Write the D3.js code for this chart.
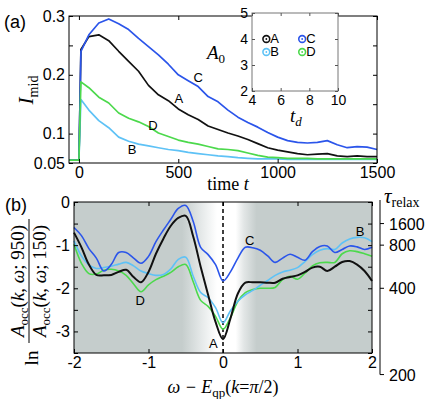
<!DOCTYPE html>
<html>
<head>
<meta charset="utf-8">
<script src="https://cdn.jsdelivr.net/npm/d3@7"></script>
<style>
  html, body { margin: 0; padding: 0; background: #fff; }
  svg text { font-family: "Liberation Sans", Arial, Helvetica, sans-serif; fill: #000; }
  .math, svg text.math { font-family: "Liberation Serif", "Times New Roman", serif; }
  .frame { fill: none; stroke: #000; stroke-width: 1; }
  .inset-frame { fill: #fff; stroke: #777; stroke-width: 1; }
</style>
</head>
<body>
<svg id="chart" width="436" height="399"></svg>
<script>
// ---- panel (a): I_mid vs time ----
const timeT = [-50, 0, 10, 50, 100, 150, 200, 250, 300, 350, 400, 450, 500, 550, 600, 650, 700,
    750, 800, 850, 900, 950, 1000, 1050, 1100, 1150, 1200, 1250, 1300, 1350, 1400, 1450, 1500];
const imidA = [.055, .055, .243, .265, .268, .258, .240, .223, .206, .182, .166, .156, .142, .132, .124, .113, .107,
    .101, .096, .090, .083, .076, .072, .069, .066, .064, .065, .066, .062, .061, .062, .061, .061];
const imidB = [.055, .055, .158, .140, .122, .110, .094, .087, .082, .079, .076, .073, .071, .068, .066, .064, .062,
    .061, .059, .058, .057, .057, .057, .056, .056, .056, .056, .056, .056, .056, .056, .056, .056];
const imidC = [.055, .055, .240, .268, .288, .295, .287, .277, .262, .248, .234, .218, .200, .190, .180, .163, .154,
    .140, .128, .119, .111, .102, .094, .088, .085, .084, .085, .088, .081, .076, .078, .077, .073];
const imidD = [.055, .055, .188, .178, .162, .152, .135, .126, .120, .112, .101, .095, .089, .085, .082, .078, .074,
    .073, .071, .067, .063, .060, .059, .058, .058, .058, .057, .057, .057, .057, .057, .057, .057];
const timeTicks = [0, 500, 1000, 1500];
const imidTicks = [0.05, 0.1, 0.15, 0.2, 0.25, 0.3];
const imidLabels = ["0.05", "0.1", "", "0.2", "", "0.3"];

// inset: A0 vs t_d
const insetNames = ["A", "B", "C", "D"];
const insetTd = [5, 5, 7.5, 7.5];
const insetA0 = [4, 3.5, 4, 3.5];
const insetXTicks = [4, 6, 8, 10];
const insetYTicks = [2, 3, 4, 5];

// ---- panel (b): ln ratio vs omega ----
const omega = [-2.0, -1.9, -1.8, -1.7, -1.6, -1.5, -1.4, -1.3, -1.2, -1.1, -1.0, -0.9, -0.8, -0.7, -0.6, -0.5, -0.4,
    -0.3, -0.2, -0.1, 0.0, 0.1, 0.2, 0.3, 0.4, 0.5, 0.6, 0.7, 0.8, 0.9, 1.0, 1.1, 1.2, 1.3, 1.4, 1.5, 1.6, 1.7, 1.8, 1.9, 2.0];
const lnA = [-0.71, -1.05, -1.45, -1.69, -1.70, -1.69, -1.62, -1.57, -1.74, -1.86, -1.62, -1.20, -0.85, -0.55, -0.37, -0.32, -0.80,
    -1.50, -2.15, -2.78, -3.18, -2.70, -2.12, -1.87, -1.86, -1.86, -1.87, -1.87, -1.78, -1.74, -1.70, -1.62, -1.52, -1.50, -1.60, -1.50, -1.39, -1.37, -1.45, -1.60, -1.83];
const lnB = [-0.90, -1.25, -1.46, -1.54, -1.52, -1.49, -1.44, -1.40, -1.48, -1.60, -1.66, -1.70, -1.68, -1.55, -1.33, -1.28, -1.72,
    -2.10, -2.22, -2.45, -2.80, -2.52, -2.30, -2.15, -2.05, -1.93, -1.82, -1.70, -1.62, -1.58, -1.52, -1.38, -1.22, -1.12, -1.08, -1.10, -0.95, -0.86, -0.82, -0.83, -0.92];
const lnC = [-0.59, -0.78, -1.08, -1.30, -1.60, -1.45, -1.17, -1.17, -1.30, -1.42, -1.26, -0.92, -0.65, -0.40, -0.15, -0.08, -0.45,
    -1.05, -1.22, -1.45, -1.83, -1.62, -1.30, -1.05, -1.06, -1.12, -1.25, -1.40, -1.30, -1.21, -1.28, -1.35, -1.15, -1.03, -1.02, -1.17, -1.10, -1.02, -1.04, -1.10, -1.05];
const lnD = [-0.98, -1.42, -1.66, -1.67, -1.58, -1.56, -1.60, -1.70, -1.90, -2.08, -1.92, -1.80, -1.72, -1.63, -1.50, -1.45, -1.85,
    -2.28, -2.42, -2.65, -2.95, -2.68, -2.30, -2.10, -2.03, -2.00, -2.00, -1.98, -1.80, -1.72, -1.79, -1.65, -1.48, -1.41, -1.40, -1.40, -1.20, -1.13, -1.15, -1.20, -1.26];
const omegaTicks = [-2, -1, 0, 1, 2];
const lnTicks = [-3.5, -3, -2.5, -2, -1.5, -1, -0.5, 0];
const tauTicks = [1600, 800, 400, 200];

const seriesColor = {A: "#111111", B: "#5ec2f6", C: "#2b55ea", D: "#4cd94c"};

const svg = d3.select("#chart");

const padA = {left: 69, right: 377, top: 16, bottom: 163};
const padB = {left: 74, right: 372, top: 202, bottom: 353};

const scaleA = {
    x: d3.scaleLinear().domain([-50, 1500]).range([padA.left, padA.right]),
    y: d3.scaleLinear().domain([0.05, 0.3]).range([padA.bottom, padA.top])
};
const scaleB = {
    x: d3.scaleLinear().domain([-2, 2]).range([padB.left, padB.right]),
    y: d3.scaleLinear().domain([-3.5, 0]).range([padB.bottom, padB.top])
};
const scaleInset = {
    x: d3.scaleLinear().domain([4, 10]).range([252, 338]),
    y: d3.scaleLinear().domain([2, 5]).range([91, 13])
};

// matlab style box: ticks inside on every side, labels only left/bottom
function boxAxes(g, scale, xTicks, yTicks, xFmt, yFmt, size, fontSize) {
    const [x0, x1] = scale.x.range(), [y0, y1] = scale.y.range();
    const style = sel => {
        sel.select(".domain").remove();
        sel.selectAll("text").style("font-size", fontSize + "px");
    };
    g.append("g").attr("transform", `translate(0,${y0})`)
        .call(d3.axisBottom(scale.x).tickValues(xTicks).tickSize(-size).tickPadding(4).tickFormat(xFmt))
        .call(style);
    g.append("g").attr("transform", `translate(0,${y1})`)
        .call(d3.axisTop(scale.x).tickValues(xTicks).tickSize(-size).tickFormat(""))
        .call(style);
    g.append("g").attr("transform", `translate(${x0},0)`)
        .call(d3.axisLeft(scale.y).tickValues(yTicks).tickSize(-size).tickPadding(4).tickFormat(yFmt))
        .call(style);
    g.append("g").attr("transform", `translate(${x1},0)`)
        .call(d3.axisRight(scale.y).tickValues(yTicks).tickSize(-size).tickFormat(""))
        .call(style);
}

function renderPanelA() {
    const g = svg.append("g").attr("class", "panel-a");
    const series = [["A", imidA], ["B", imidB], ["C", imidC], ["D", imidD]];
    const line = d3.line().x((d, i) => scaleA.x(timeT[i])).y(d => scaleA.y(d));

    g.selectAll(".series")
        .data(series)
        .enter()
        .append("path")
        .attr("class", "series")
        .attr("fill", "none")
        .attr("stroke", d => seriesColor[d[0]])
        .attr("stroke-width", 1.7)
        .attr("stroke-linejoin", "round")
        .attr("d", d => line(d[1]));

    g.append("rect").attr("class", "frame")
        .attr("x", padA.left).attr("y", padA.top)
        .attr("width", padA.right - padA.left).attr("height", padA.bottom - padA.top);

    boxAxes(g, scaleA, timeTicks, imidTicks, d => d, (d, i) => imidLabels[i], 4, 16);

    // curve labels
    const tags = [{k: "C", t: 600, v: 0.197}, {k: "A", t: 503, v: 0.161}, {k: "D", t: 372, v: 0.114}, {k: "B", t: 267, v: 0.074}];
    g.selectAll(".tag").data(tags).enter().append("text")
        .attr("class", "tag")
        .attr("x", d => scaleA.x(d.t)).attr("y", d => scaleA.y(d.v) + 5)
        .attr("text-anchor", "middle").style("font-size", "13px")
        .text(d => d.k);

    // axis titles
    const xl = g.append("text").attr("class", "math").attr("x", 228).attr("y", 190)
        .attr("text-anchor", "middle").style("font-size", "18px");
    xl.append("tspan").text("time ");
    xl.append("tspan").style("font-style", "italic").text("t");

    const yl = g.append("text").attr("class", "math")
        .attr("transform", "translate(33,90) rotate(-90)")
        .attr("text-anchor", "middle").style("font-size", "21px");
    yl.append("tspan").style("font-style", "italic").text("I");
    yl.append("tspan").attr("dy", 5).style("font-size", "14px").text("mid");

    svg.append("text").attr("x", 4).attr("y", 28).style("font-size", "18px").text("(a)");
}

function renderInset() {
    const g = svg.append("g").attr("class", "inset");
    g.append("rect").attr("class", "inset-frame")
        .attr("x", 252).attr("y", 13).attr("width", 86).attr("height", 78);
    boxAxes(g, scaleInset, insetXTicks, insetYTicks, d => d, () => "", 3, 14);
    g.selectAll(".tick line").attr("stroke", "#555");

    const pts = g.selectAll(".pt").data(insetNames).enter().append("g")
        .attr("class", "pt")
        .attr("transform", (d, i) => `translate(${scaleInset.x(insetTd[i])},${scaleInset.y(insetA0[i])})`);
    pts.append("circle").attr("r", 3.4).attr("fill", "none")
        .attr("stroke", d => seriesColor[d]).attr("stroke-width", 1.6);
    pts.append("circle").attr("r", 0.9).attr("fill", d => seriesColor[d]);
    pts.append("text").attr("x", 4).attr("y", 4).style("font-size", "13px").text(d => d);

    const a0 = g.append("text").attr("class", "math").attr("x", 207).attr("y", 59)
        .style("font-size", "19px").style("font-style", "italic");
    a0.append("tspan").text("A");
    a0.append("tspan").attr("dy", 4).style("font-size", "13px").style("font-style", "normal").text("0");

    const td = g.append("text").attr("class", "math").attr("x", 290).attr("y", 122)
        .style("font-size", "19px").style("font-style", "italic");
    td.append("tspan").text("t");
    td.append("tspan").attr("dy", 4).style("font-size", "13px").text("d");
}

// y tick labels of the inset, drawn last so nothing sits over them
function renderInsetLabels() {
    svg.append("g").attr("class", "inset-ylabels")
        .selectAll("text").data(insetYTicks).enter().append("text")
        .attr("x", scaleInset.x(4) - 4)
        .attr("y", d => scaleInset.y(d))
        .attr("dy", "0.35em")
        .attr("text-anchor", "end")
        .style("font-size", "14px")
        .text(d => d);
}

function renderPanelB() {
    const g = svg.append("g").attr("class", "panel-b");
    const defs = svg.append("defs");
    const grad = defs.append("linearGradient").attr("id", "band")
        .attr("gradientUnits", "userSpaceOnUse")
        .attr("x1", padB.left).attr("x2", padB.right).attr("y1", 0).attr("y2", 0);
    const gray = "#c5cdcc";
    [[-2, gray], [-0.55, gray], [-0.3, "#e4e8e8"], [-0.08, "#ffffff"], [0.17, "#ffffff"], [0.28, "#e2e6e6"], [0.45, gray], [2, gray]]
        .forEach(s => grad.append("stop")
            .attr("offset", (scaleB.x(s[0]) - padB.left) / (padB.right - padB.left))
            .attr("stop-color", s[1]));

    g.append("rect")
        .attr("x", padB.left).attr("y", padB.top)
        .attr("width", padB.right - padB.left).attr("height", padB.bottom - padB.top)
        .attr("fill", "url(#band)");

    g.append("line")
        .attr("x1", scaleB.x(0)).attr("x2", scaleB.x(0))
        .attr("y1", padB.top).attr("y2", padB.bottom)
        .attr("stroke", "#000").attr("stroke-width", 1.5).attr("stroke-dasharray", "4,3");

    const series = [["D", lnD], ["B", lnB], ["C", lnC], ["A", lnA]];
    const line = d3.line().curve(d3.curveCatmullRom.alpha(0.5))
        .x((d, i) => scaleB.x(omega[i])).y(d => scaleB.y(d));
    g.selectAll(".series")
        .data(series)
        .enter()
        .append("path")
        .attr("class", "series")
        .attr("fill", "none")
        .attr("stroke", d => seriesColor[d[0]])
        .attr("stroke-width", d => d[0] === "A" ? 2 : 1.6)
        .attr("d", d => line(d[1]));

    g.append("rect").attr("class", "frame")
        .attr("x", padB.left).attr("y", padB.top)
        .attr("width", padB.right - padB.left).attr("height", padB.bottom - padB.top);

    const fmt = d => Number.isInteger(d) ? String(d).replace("\u2212", "-") : "";
    boxAxes(g, scaleB, omegaTicks, lnTicks, d => String(d), fmt, 4, 16);

    const tags = [{k: "A", w: -0.13, v: -3.27}, {k: "C", w: 0.36, v: -0.87}, {k: "B", w: 1.84, v: -0.68}, {k: "D", w: -1.11, v: -2.27}];
    g.selectAll(".tag").data(tags).enter().append("text")
        .attr("class", "tag")
        .attr("x", d => scaleB.x(d.w)).attr("y", d => scaleB.y(d.v) + 5)
        .attr("text-anchor", "middle").style("font-size", "13px")
        .text(d => d.k);

    // right axis: tau_relax = -800 / ln ratio
    const tauY = tau => scaleB.y(-800 / tau);
    const ax = g.append("g").attr("class", "tau-axis");
    ax.append("line").attr("x1", 380).attr("x2", 380)
        .attr("y1", scaleB.y(0) - 2).attr("y2", tauY(200))
        .attr("stroke", "#000");
    ax.selectAll(".tau-tick").data(tauTicks).enter().append("line")
        .attr("class", "tau-tick")
        .attr("x1", 380).attr("x2", 384)
        .attr("y1", d => tauY(d)).attr("y2", d => tauY(d))
        .attr("stroke", "#000");
    ax.selectAll(".tau-label").data(tauTicks).enter().append("text")
        .attr("class", "tau-label")
        .attr("x", 389).attr("y", d => tauY(d) + 6)
        .style("font-size", "16px").text(d => d);
    const tl = ax.append("text").attr("class", "math").attr("x", 384).attr("y", 203)
        .style("font-size", "21px");
    tl.append("tspan").style("font-style", "italic").text("\u03c4");
    tl.append("tspan").attr("dy", 4).style("font-size", "14px").text("relax");

    // x title
    const xl = g.append("text").attr("class", "math").attr("x", 223).attr("y", 393)
        .attr("text-anchor", "middle").style("font-size", "18px");
    xl.append("tspan").style("font-style", "italic").text("\u03c9 \u2212 E");
    xl.append("tspan").attr("dy", 4).style("font-size", "13px").text("qp");
    xl.append("tspan").attr("dy", -4).text("(");
    xl.append("tspan").style("font-style", "italic").text("k");
    xl.append("tspan").text("=");
    xl.append("tspan").style("font-style", "italic").text("\u03c0");
    xl.append("tspan").text("/2)");

    // y title: ln of a fraction, rotated
    const yl = g.append("g").attr("class", "math").attr("transform", "translate(29,281) rotate(-90)");
    yl.append("line").attr("x1", -62).attr("x2", 62).attr("y1", 0).attr("y2", 0)
        .attr("stroke", "#000").attr("stroke-width", 1);
    const frac = (y, tail) => {
        const t = yl.append("text").attr("class", "math").attr("x", 0).attr("y", y)
            .attr("text-anchor", "middle").style("font-size", "19px");
        t.append("tspan").style("font-style", "italic").text("A");
        t.append("tspan").attr("dy", 4).style("font-size", "13px").text("occ");
        t.append("tspan").attr("dy", -4).text("(");
        t.append("tspan").style("font-style", "italic").text("k");
        t.append("tspan").text(", ");
        t.append("tspan").style("font-style", "italic").text("\u03c9");
        t.append("tspan").text("; " + tail + ")");
    };
    frac(-5, "950");
    frac(17, "150");
    yl.append("text").attr("class", "math").attr("x", -77).attr("y", 9)
        .attr("text-anchor", "middle").style("font-size", "19px").text("ln");

    svg.append("text").attr("x", 5).attr("y", 211).style("font-size", "18px").text("(b)");
}

renderPanelA();
renderInset();
renderPanelB();
renderInsetLabels();
</script>
</body>
</html>
